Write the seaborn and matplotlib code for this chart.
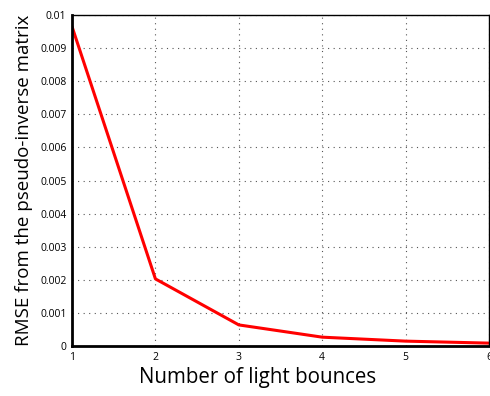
import matplotlib
matplotlib.use("Agg")
import matplotlib.pyplot as plt
import pandas as pd
import seaborn as sns

bounces = [1, 2, 3, 4, 5, 6]
rmse = [0.00965, 0.00203, 0.00064, 0.00027, 0.00015, 0.00009]

df = pd.DataFrame({"bounces": bounces, "rmse": rmse})

sns.set_theme(style="white")
plt.rcParams["font.family"] = ["Open Sans", "DejaVu Sans"]
plt.rcParams["text.color"] = "black"
plt.rcParams["axes.labelcolor"] = "black"

fig = plt.figure(figsize=(4.9, 3.96), dpi=100)
ax = fig.add_axes([0.147, 0.126, 0.851, 0.836])

sns.lineplot(data=df, x="bounces", y="rmse", color="red", linewidth=2.2, ax=ax)

ax.set_xlim(1, 6)
ax.set_ylim(0, 0.01)
ax.set_xticks(bounces)
ax.set_yticks([i * 0.001 for i in range(11)])
ax.set_yticklabels(["0"] + [f"{i * 0.001:.3f}" for i in range(1, 10)] + ["0.01"])
ax.grid(True, linestyle=(0, (1, 4)), color="#555555", linewidth=0.8)
ax.tick_params(direction="in", length=3, labelsize=7.5, colors="black", pad=4)

for side in ["left", "bottom"]:
    ax.spines[side].set_linewidth(2)
    ax.spines[side].set_color("black")
for side in ["top", "right"]:
    ax.spines[side].set_linewidth(1)
    ax.spines[side].set_color("black")

ax.set_xlabel("Number of light bounces", fontsize=14.8)
ax.xaxis.set_label_coords(0.445, -0.062)
ax.set_ylabel("RMSE from the pseudo-inverse matrix", fontsize=13.5, labelpad=5)

fig.savefig("out.png", dpi=100)
